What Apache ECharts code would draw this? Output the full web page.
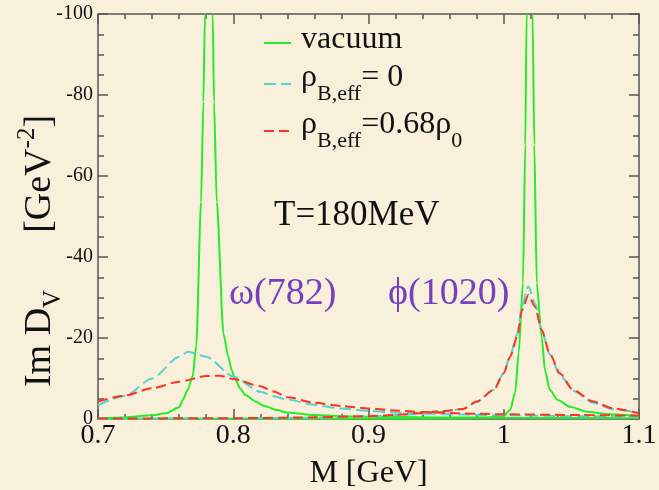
<!DOCTYPE html>
<html><head><meta charset="utf-8">
<script src="https://cdn.jsdelivr.net/npm/echarts@6/dist/echarts.min.js"></script>
<style>html,body{margin:0;padding:0;background:#f9f0dc}#c{width:659px;height:490px}</style>
</head><body><div id="c"></div>
<script>
// ---------- data ----------
const xTickLabels = ['0.7', '0.8', '0.9', '1', '1.1'];
const yTickLabels = ['-100', '-80', '-60', '-40', '-20', '0'];

// vacuum (green, solid): omega channel and phi channel
const vacuumOmega = [
  [0.70,-0.2],[0.72,-0.4],[0.74,-0.9],[0.75,-1.4],[0.76,-2.9],[0.7627,-4.7],[0.7663,-7.2],
  [0.770,-10.6],[0.7726,-18],[0.7762,-53.6],[0.7779,-78.3],[0.7791,-100],[0.782,-200],
  [0.7848,-100],[0.7858,-78.3],[0.7878,-53.6],[0.7928,-21],[0.7963,-15.4],[0.7988,-12.1],
  [0.8012,-10],[0.805,-7.6],[0.809,-5.9],[0.8166,-4.3],[0.823,-3.2],[0.8326,-2.2],[0.839,-1.6],
  [0.86,-1.0],[0.88,-0.7],[0.90,-0.55],[0.95,-0.4],[1.00,-0.3],[1.05,-0.25],[1.10,-0.2]
];
const vacuumPhi = [
  [0.70,0],[0.80,-0.05],[0.90,-0.1],[0.97,-0.2],[0.99,-0.4],[1.0,-0.8],[1.0047,-2.2],
  [1.0084,-6.4],[1.011,-16.2],[1.0142,-33.5],[1.0159,-67.7],[1.0169,-100],[1.019,-250],
  [1.0213,-100],[1.0226,-67.7],[1.0244,-33.5],[1.028,-20.3],[1.0305,-12],[1.034,-7.2],
  [1.040,-4.7],[1.049,-3.0],[1.0613,-1.8],[1.0786,-1.2],[1.10,-0.8]
];
// rho_B,eff = 0 (cyan, dashed)
const rho0Omega = [
  [0.70,-3.4],[0.72,-5.7],[0.74,-10],[0.76,-15.4],[0.7666,-16.6],[0.78,-15.4],[0.80,-10.5],
  [0.82,-6.7],[0.83,-5.6],[0.84,-4.8],[0.86,-3.5],[0.88,-2.6],[0.90,-2.0],[0.92,-1.6],
  [0.945,-1.3],[0.97,-1.1],[1.00,-0.9],[1.05,-0.7],[1.10,-0.6]
];
const rho0Phi = [
  [0.70,-0.05],[0.80,-0.15],[0.85,-0.3],[0.90,-0.6],[0.92,-0.9],[0.94,-1.3],[0.955,-1.8],
  [0.97,-2.5],[0.98,-4.2],[0.9926,-7.2],[1.0,-11.3],[1.0047,-15.6],[1.010,-21],[1.0135,-28],
  [1.0182,-32.8],[1.0231,-28.5],[1.028,-22],[1.034,-16],[1.0414,-11],[1.0513,-7],[1.066,-4],
  [1.081,-2.4],[1.10,-1.6]
];
// rho_B,eff = 0.68 rho_0 (red, dashed)
const rho068Omega = [
  [0.70,-4.3],[0.72,-5.8],[0.74,-7.6],[0.76,-9.2],[0.78,-10.6],[0.79,-10.7],[0.80,-9.9],
  [0.82,-8.1],[0.83,-6.8],[0.84,-5.4],[0.86,-4.0],[0.88,-3.2],[0.90,-2.6],[0.92,-2.1],
  [0.94,-1.7],[0.96,-1.5],[0.98,-1.3],[1.00,-1.15],[1.05,-1.0],[1.10,-0.8]
];
const rho068Phi = [
  [0.70,-0.1],[0.80,-0.2],[0.85,-0.35],[0.90,-0.7],[0.92,-1.0],[0.94,-1.5],[0.955,-2.0],
  [0.97,-2.5],[0.98,-4.3],[0.9926,-7.2],[1.0,-11.3],[1.0047,-15.4],[1.010,-20.3],[1.0135,-26.9],
  [1.0182,-30.6],[1.0231,-27.7],[1.028,-22],[1.034,-16.2],[1.0414,-11.3],[1.0513,-7.2],
  [1.066,-4.3],[1.081,-2.6],[1.10,-1.4]
];

// ---------- styling ----------
const SERIF = "'Liberation Serif','DejaVu Serif',serif";
const GREEN = '#26ec26', CYAN = '#55d2d2', RED = '#ff3322', AXIS = '#555', TXT = '#111', PURPLE = '#7440c0';

function lineSeries(name, data, color, dashed, z) {
  return {
    name, type: 'line', data, symbol: 'none', showSymbol: false, smooth: 0.25, smoothMonotone: 'x',
    clip: true, z, itemStyle: {color},
    lineStyle: {color, width: 2, type: dashed ? dashed : 'solid'}
  };
}

const richLegend = {
  v: {fontSize: 32, fontFamily: SERIF, color: TXT, lineHeight: 34, height: 34, verticalAlign: 'middle'},
  m: {fontSize: 32, fontFamily: SERIF, color: TXT, lineHeight: 48, height: 48, verticalAlign: 'middle'},
  s: {fontSize: 22, fontFamily: SERIF, color: TXT, lineHeight: 16, height: 16, verticalAlign: 'bottom'}
};
const legendLabels = {
  vacuum: '{v|vacuum}',
  rho0: '{m|ρ}{s|B,eff}{m|= 0}',
  rho068: '{m|ρ}{s|B,eff}{m|=0.68ρ}{s|0}'
};
function legend(name, top, padBottom) {
  return {
    data: [name], left: 263, top, padding: 0, orient: 'vertical',
    itemWidth: 27, itemHeight: 14, selectedMode: false,
    itemStyle: {opacity: 0},
    formatter: n => legendLabels[n],
    textStyle: {fontFamily: SERIF, fontSize: 32, color: TXT, padding: [0, 0, padBottom, 5], rich: richLegend}
  };
}

const baseX = {
  type: 'value', min: 0.7, max: 1.1, interval: 0.1, splitLine: {show: false},
  axisLine: {show: true, onZero: false, lineStyle: {color: AXIS, width: 1.5}},
  axisTick: {show: true, inside: true, length: 10, lineStyle: {color: AXIS, width: 1.5}},
  minorTick: {show: true, splitNumber: 5, length: 5, lineStyle: {color: AXIS, width: 1.5}}
};
const baseY = {
  type: 'value', min: -100, max: 0, interval: 20, inverse: true, splitLine: {show: false},
  axisLine: {show: true, onZero: false, lineStyle: {color: AXIS, width: 1.5}},
  axisTick: {show: true, inside: true, length: 10, lineStyle: {color: AXIS, width: 1.5}},
  minorTick: {show: true, splitNumber: 4, length: 6, lineStyle: {color: AXIS, width: 1.5}}
};

const option = {
  animation: false,
  backgroundColor: '#f9f0dc',
  grid: {left: 98, right: 20, top: 14, bottom: 71, containLabel: false, outerBoundsMode: 'none'},
  legend: [legend('vacuum', 23, 6), legend('rho0', 54, 12), legend('rho068', 101, 12)],
  xAxis: [
    Object.assign({}, baseX, {
      position: 'bottom',
      axisLabel: {fontFamily: SERIF, fontSize: 28, color: TXT, margin: 3,
        formatter: v => xTickLabels[Math.round((v - 0.7) / 0.1)]},
      name: 'M [GeV]', nameLocation: 'middle', nameGap: 39, nameMoveOverlap: false,
      nameTextStyle: {fontFamily: SERIF, fontSize: 32, color: TXT}
    }),
    Object.assign({}, baseX, {position: 'top', axisLabel: {show: false}})
  ],
  yAxis: [
    Object.assign({}, baseY, {
      position: 'left',
      axisLabel: {fontFamily: SERIF, fontSize: 20, color: TXT, margin: 5,
        formatter: v => yTickLabels[Math.round((v + 100) / 20)]},
      name: '{m|Im D}{s|V}{g| }{m|[GeV}{p|-2}{m|]}', nameLocation: 'middle', nameRotate: 90,
      nameGap: 38, nameMoveOverlap: false,
      nameTextStyle: {fontFamily: SERIF, color: TXT, padding: [0, 69, 0, 0],
        rich: {
          m: {fontSize: 38, fontFamily: SERIF, color: TXT, lineHeight: 40, height: 40, verticalAlign: 'middle'},
          s: {fontSize: 25, fontFamily: SERIF, color: TXT, lineHeight: 14, height: 14, verticalAlign: 'bottom'},
          p: {fontSize: 25, fontFamily: SERIF, color: TXT, lineHeight: 14, height: 14, verticalAlign: 'top'},
          g: {fontSize: 25, fontFamily: SERIF, color: TXT, lineHeight: 14, height: 14, width: 57, verticalAlign: 'middle'}
        }}
    }),
    Object.assign({}, baseY, {position: 'right', axisLabel: {show: false}})
  ],
  graphic: [
    {type: 'text', x: 274, y: 216, style: {text: 'T=180MeV', font: "35px 'Liberation Serif'", fill: TXT, align: 'left', verticalAlign: 'middle'}},
    {type: 'text', x: 229, y: 294, style: {text: 'ω(782)', font: "38px 'Liberation Serif','DejaVu Serif'", fill: PURPLE, align: 'left', verticalAlign: 'middle'}},
    {type: 'text', x: 388, y: 294, style: {text: 'ϕ(1020)', font: "38px 'Liberation Serif','DejaVu Serif'", fill: PURPLE, align: 'left', verticalAlign: 'middle'}}
  ],
  series: [
    lineSeries('vacuum', vacuumOmega, GREEN, null, 2),
    lineSeries('vacuum', vacuumPhi, GREEN, null, 2),
    lineSeries('rho0', rho0Omega, CYAN, [12, 5], 3),
    lineSeries('rho0', rho0Phi, CYAN, [12, 5], 3),
    lineSeries('rho068', rho068Omega, RED, [10, 5], 4),
    lineSeries('rho068', rho068Phi, RED, [10, 5], 4)
  ]
};
const chart = echarts.init(document.getElementById('c'), null, {renderer: 'canvas'});
chart.setOption(option);
</script></body></html>
